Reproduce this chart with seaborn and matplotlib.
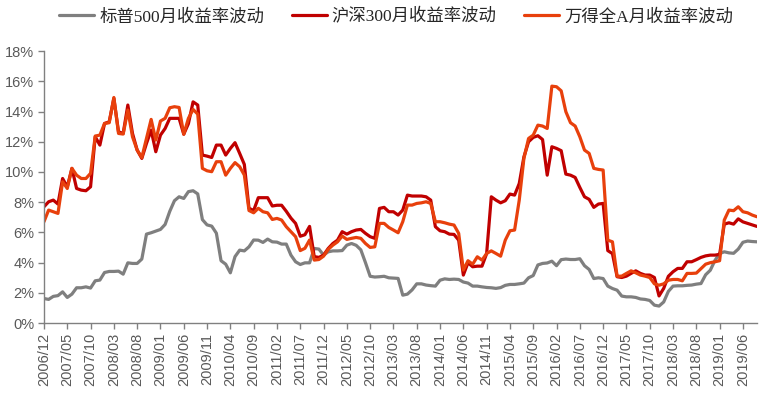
import numpy as np
import pandas as pd
import matplotlib
matplotlib.use("Agg")
import matplotlib.pyplot as plt
import seaborn as sns
from matplotlib.ticker import FuncFormatter, MultipleLocator

# monthly return volatility (%), 2006/12 - 2019/09
sp500 = [
    1.63, 1.57, 1.77, 1.82, 2.07, 1.70, 1.92, 2.34, 2.34, 2.40,
    2.32, 2.80, 2.85, 3.35, 3.42, 3.42, 3.44, 3.24, 3.99, 3.95,
    3.95, 4.24, 5.89, 5.98, 6.09, 6.20, 6.53, 7.40, 8.10, 8.36,
    8.25, 8.70, 8.76, 8.55, 6.85, 6.50, 6.42, 5.95, 4.13, 3.90,
    3.33, 4.40, 4.83, 4.78, 5.05, 5.50, 5.49, 5.34, 5.56, 5.38,
    5.36, 5.23, 5.23, 4.50, 4.06, 3.88, 3.99, 3.99, 4.94, 4.90,
    4.50, 4.72, 4.78, 4.78, 4.80, 5.16, 5.27, 5.15, 4.85, 4.00,
    3.10, 3.05, 3.07, 3.10, 3.00, 2.98, 2.96, 1.85, 1.92, 2.20,
    2.60, 2.60, 2.52, 2.48, 2.45, 2.84, 2.93, 2.89, 2.91, 2.89,
    2.72, 2.65, 2.45, 2.45, 2.40, 2.36, 2.34, 2.30, 2.35, 2.50,
    2.56, 2.56, 2.60, 2.65, 3.00, 3.15, 3.85, 3.95, 3.98, 4.10,
    3.80, 4.20, 4.24, 4.21, 4.21, 4.26, 3.80, 3.55, 2.95, 3.00,
    2.95, 2.45, 2.29, 2.18, 1.79, 1.74, 1.74, 1.70, 1.60, 1.57,
    1.50, 1.19, 1.13, 1.40, 2.10, 2.45, 2.47, 2.47, 2.50, 2.52,
    2.58, 2.62, 3.20, 3.50, 4.15, 4.60, 4.72, 4.65, 4.62, 4.90,
    5.35, 5.43, 5.40, 5.38,
]
hs300 = [
    7.70, 8.03, 8.14, 7.88, 9.57, 9.02, 10.24, 8.91, 8.80, 8.76,
    9.02, 12.33, 11.78, 13.21, 13.32, 14.87, 12.66, 12.55, 14.43, 12.55,
    11.45, 10.90, 11.89, 12.77, 11.34, 12.44, 12.88, 13.55, 13.55, 13.55,
    12.50, 13.20, 14.64, 14.43, 11.12, 11.05, 10.96, 11.78, 11.78, 11.12,
    11.56, 11.94, 11.23, 10.50, 7.60, 7.45, 8.30, 8.30, 8.30, 7.75,
    7.80, 7.80, 7.40, 6.95, 6.60, 5.75, 5.85, 6.40, 4.40, 4.35,
    4.50, 4.94, 5.27, 5.49, 6.05, 5.89, 6.05, 6.16, 6.20, 5.94,
    5.72, 5.61, 7.59, 7.66, 7.37, 7.37, 7.15, 7.48, 8.47, 8.41,
    8.41, 8.41, 8.36, 8.14, 6.38, 6.11, 6.05, 5.89, 5.87, 5.49,
    3.18, 4.00, 3.73, 3.77, 3.77, 4.60, 8.36, 8.14, 7.96, 8.10,
    8.54, 8.47, 9.24, 11.00, 12.00, 12.29, 12.40, 12.15, 9.79, 11.67,
    11.56, 11.41, 9.86, 9.79, 9.64, 8.98, 8.36, 8.19, 7.66, 7.88,
    7.92, 4.80, 4.60, 3.07, 3.02, 3.11, 3.29, 3.46, 3.29, 3.18,
    3.18, 3.02, 1.80, 2.30, 3.10, 3.40, 3.62, 3.62, 4.06, 4.06,
    4.20, 4.35, 4.45, 4.50, 4.50, 4.55, 6.55, 6.64, 6.55, 6.90,
    6.70, 6.60, 6.50, 6.40,
]
wind_a = [
    6.71, 7.48, 7.37, 7.26, 9.35, 8.91, 10.24, 9.79, 9.57, 9.57,
    9.91, 12.38, 12.44, 13.21, 13.26, 14.93, 12.55, 12.51, 14.10, 12.33,
    11.45, 10.96, 12.22, 13.48, 12.11, 13.37, 13.55, 14.25, 14.32, 14.27,
    12.50, 13.55, 14.14, 13.83, 10.24, 10.08, 10.02, 10.68, 10.68, 9.79,
    10.24, 10.62, 10.35, 9.80, 7.45, 7.30, 7.60, 7.37, 7.30, 6.86,
    6.93, 6.82, 6.38, 6.05, 5.72, 4.80, 4.95, 5.50, 4.17, 4.21,
    4.43, 4.88, 5.16, 5.38, 5.76, 5.54, 5.61, 5.67, 5.61, 5.27,
    5.01, 5.05, 6.60, 6.60, 6.33, 6.16, 5.98, 6.71, 7.81, 7.81,
    7.92, 7.96, 8.03, 7.92, 6.71, 6.71, 6.64, 6.55, 6.49, 5.94,
    3.51, 4.13, 3.90, 4.39, 4.17, 4.61, 4.78, 4.61, 4.43, 5.49,
    6.11, 6.16, 8.14, 10.90, 12.22, 12.44, 13.10, 13.04, 12.88, 15.68,
    15.64, 15.37, 13.99, 13.26, 13.04, 12.33, 11.45, 11.23, 10.24, 10.17,
    10.13, 5.49, 5.38, 3.10, 3.11, 3.29, 3.46, 3.33, 3.18, 3.11,
    3.02, 2.60, 2.51, 2.60, 2.84, 2.89, 2.89, 2.80, 3.29, 3.29,
    3.31, 3.60, 3.90, 4.00, 4.06, 4.13, 6.82, 7.48, 7.44, 7.70,
    7.37, 7.30, 7.15, 7.04,
]

names = ["标普500月收益率波动", "沪深300月收益率波动", "万得全A月收益率波动"]
colors = ["#7f7f7f", "#c00000", "#e8400c"]

months = pd.period_range("2006-12", periods=len(sp500), freq="M").strftime("%Y/%m")

df = pd.DataFrame({"idx": np.arange(len(months)), names[0]: sp500,
                   names[1]: hs300, names[2]: wind_a})
df_long = df.melt(id_vars="idx", var_name="series", value_name="vol")

sns.set_style("ticks")
plt.rcParams["font.family"] = ["Liberation Sans", "Noto Sans CJK SC", "DejaVu Sans"]

fig = plt.figure(figsize=(7.62, 3.96), dpi=100)
ax = fig.add_axes([0.0577, 0.184, 0.9356, 0.687])

sns.lineplot(data=df_long, x="idx", y="vol", hue="series", hue_order=names,
             palette=dict(zip(names, colors)), linewidth=2.3, ax=ax)

handles, labels = ax.get_legend_handles_labels()
ax.get_legend().remove()
fig.legend(handles, labels, loc="center", bbox_to_anchor=(0.52, 0.957), ncol=3,
           frameon=False, handlelength=2.0, columnspacing=1.6, handletextpad=0.3,
           prop={"family": ["Liberation Serif", "Noto Sans CJK SC"], "size": 12.5})

# axes
ax.set_xlim(0, len(months) - 1)
ax.set_ylim(0, 18)
ax.yaxis.set_major_locator(MultipleLocator(2))
ax.yaxis.set_major_formatter(FuncFormatter(lambda v, _: f"{v:.0f}%"))
tick_pos = np.arange(0, len(months), 5)
ax.set_xticks(tick_pos)
ax.set_xticklabels([months[i] for i in tick_pos], rotation=90)
ax.set_xlabel("")
ax.set_ylabel("")

for side in ["top", "right"]:
    ax.spines[side].set_visible(False)
for side in ["left", "bottom"]:
    ax.spines[side].set_color("#808080")
    ax.spines[side].set_linewidth(1.0)
ax.tick_params(axis="both", colors="#808080", labelcolor="#595959",
               labelsize=10.5, length=4, width=1.0, pad=3)

fig.savefig("out.png", dpi=100)
